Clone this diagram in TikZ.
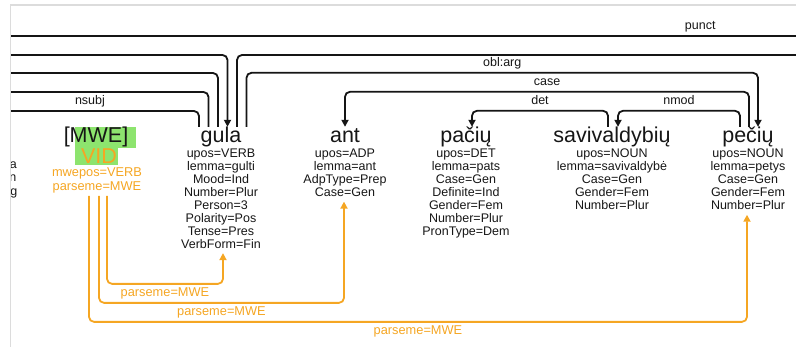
\documentclass[tikz,border=0pt]{standalone}
\usepackage{fontspec}
\setmainfont{Liberation Sans}
\usepackage{tikz}
\usetikzlibrary{arrows.meta,positioning}
\usepackage{xcolor}
\definecolor{ArcBlack}{HTML}{151515}
\definecolor{WordGray}{HTML}{161616}
\definecolor{MweOrange}{HTML}{F5A623}
\definecolor{MweGreen}{HTML}{8DE46E}
\definecolor{FrameGray}{HTML}{DCDCDC}

\tikzset{
  word/.style={font=\fontsize{21.5}{24}\selectfont, inner sep=0pt, anchor=base,
    text height=16pt, text depth=5pt, text=WordGray},
  feats/.style={font=\fontsize{12.5}{13}\selectfont, inner sep=0pt, align=center, text=WordGray},
  dep/.style={draw=ArcBlack, line width=1.8pt, rounded corners=5pt},
  deparrow/.style={dep, -{Triangle[length=7pt,width=7pt]}},
  rel/.style={font=\fontsize{12.5}{13}\selectfont, inner sep=0pt, anchor=base, yshift=6pt, text=WordGray},
  mwe/.style={draw=MweOrange, line width=1.8pt, rounded corners=5pt, -{Triangle[length=7pt,width=7pt]}},
  mwelabel/.style={font=\fontsize{12.8}{13}\selectfont, inner sep=0pt, anchor=base, yshift=-13pt, text=MweOrange},
}

\begin{document}
\begin{tikzpicture}[x=1pt,y=-1pt]
   \useasboundingbox (0,0) rectangle (796,347);
   \draw[FrameGray, line width=1.5pt] (10.5,347) -- (10.5,5) -- (796,5);

   % cut-off token on the left
   \begin{scope}
     \clip (11,140) rectangle (40,205);
     \node[feats, anchor=base east] (cut-a) at (17,169) {a};
     \node[feats, anchor=base east] (cut-n) at (16.5,182) {n};
     \node[feats, anchor=base east] (cut-g) at (17.5,196) {g};
   \end{scope}

   % MWE block
   \fill[MweGreen] (75,127) rectangle (136,148);
   \fill[MweGreen] (75,148) rectangle (118,165);
   \node[word] (mwe) at (96,143) {[MWE]};
   \node[word, text=MweOrange] (vid) at (99,164) {VID};
   \node[feats, anchor=north, text=MweOrange, font=\fontsize{12.8}{13.5}\selectfont]
     (mwe-f) at (97,167.5) {mwepos=VERB\\parseme=MWE};

   % tokens
   \node[word] (gula) at (221,143) {gula};
   \node[word] (ant) at (345,143) {ant};
   \node[word] (paciu) at (466,143) {pačių};
   \node[word] (savi) at (612,143) {savivaldybių};
   \node[word] (pecu) at (748,143) {pečių};

   \node[feats, below=5.5pt of gula.base] (gula-f)
     {upos=VERB\\lemma=gulti\\Mood=Ind\\Number=Plur\\Person=3\\Polarity=Pos\\Tense=Pres\\VerbForm=Fin};
   \node[feats, below=5.5pt of ant.base] (ant-f)
     {upos=ADP\\lemma=ant\\AdpType=Prep\\Case=Gen};
   \node[feats, below=5.5pt of paciu.base] (paciu-f)
     {upos=DET\\lemma=pats\\Case=Gen\\Definite=Ind\\Gender=Fem\\Number=Plur\\PronType=Dem};
   \node[feats, below=5.5pt of savi.base] (savi-f)
     {upos=NOUN\\lemma=savivaldybė\\Case=Gen\\Gender=Fem\\Number=Plur};
   \node[feats, below=5.5pt of pecu.base] (pecu-f)
     {upos=NOUN\\lemma=petys\\Case=Gen\\Gender=Fem\\Number=Plur};

   % arc ends outside the view
   \coordinate (l1) at (11,36);  \coordinate (r1) at (796,36);
   \coordinate (l2) at (11,55);  \coordinate (r2) at (796,55);
   \coordinate (l3) at (11,73);
   \coordinate (l4) at (11,92);
   \coordinate (l5) at (11,111);

   % dependencies
   \draw[dep] (l1) -- node[rel, pos=.878] {punct} (r1);
   \draw[deparrow] (l2) -| ([xshift=6.5pt]gula.north);
   \draw[dep] ([xshift=16pt]gula.north) |- (r2);
   \draw[dep] (l3) -| ([xshift=-3pt]gula.north);
   \draw[dep] (l4) -| ([xshift=-12.5pt]gula.north);
   \draw[dep] (l5) -| node[rel, pos=.21] {nsubj} ([xshift=-22pt]gula.north);
   \draw[deparrow] ([xshift=25.5pt]gula.north) -- ++(0,-54)
     -| node[rel, pos=.25] {obl:arg} ([xshift=10pt]pecu.north);
   \draw[deparrow] ([xshift=1pt]pecu.north) -- ++(0,-35)
     -| node[rel, pos=.25] {case} (ant.north);
   \draw[deparrow] ([xshift=-4pt]savi.north) -- ++(0,-16)
     -| node[rel, pos=.25] {det} ([xshift=6pt]paciu.north);
   \draw[deparrow] ([xshift=-8pt]pecu.north) -- ++(0,-16)
     -| node[rel, pos=.25] {nmod} ([xshift=6pt]savi.north);

   % parseme links
   \draw[mwe] ([xshift=10pt,yshift=-3pt]mwe-f.south) -- ++(0,88)
     -| node[mwelabel, pos=.25] {parseme=MWE} ([xshift=2pt,yshift=-4.5pt]gula-f.south);
   \draw[mwe] ([xshift=2pt,yshift=-3pt]mwe-f.south) -- ++(0,107)
     -| node[mwelabel, pos=.25] {parseme=MWE} ([xshift=-1pt,yshift=-5pt]ant-f.south);
   \draw[mwe] ([xshift=-8pt,yshift=-3pt]mwe-f.south) -- ++(0,126)
     -| node[mwelabel, pos=.25] {parseme=MWE} ([xshift=-1pt,yshift=-5pt]pecu-f.south);
\end{tikzpicture}
\end{document}
